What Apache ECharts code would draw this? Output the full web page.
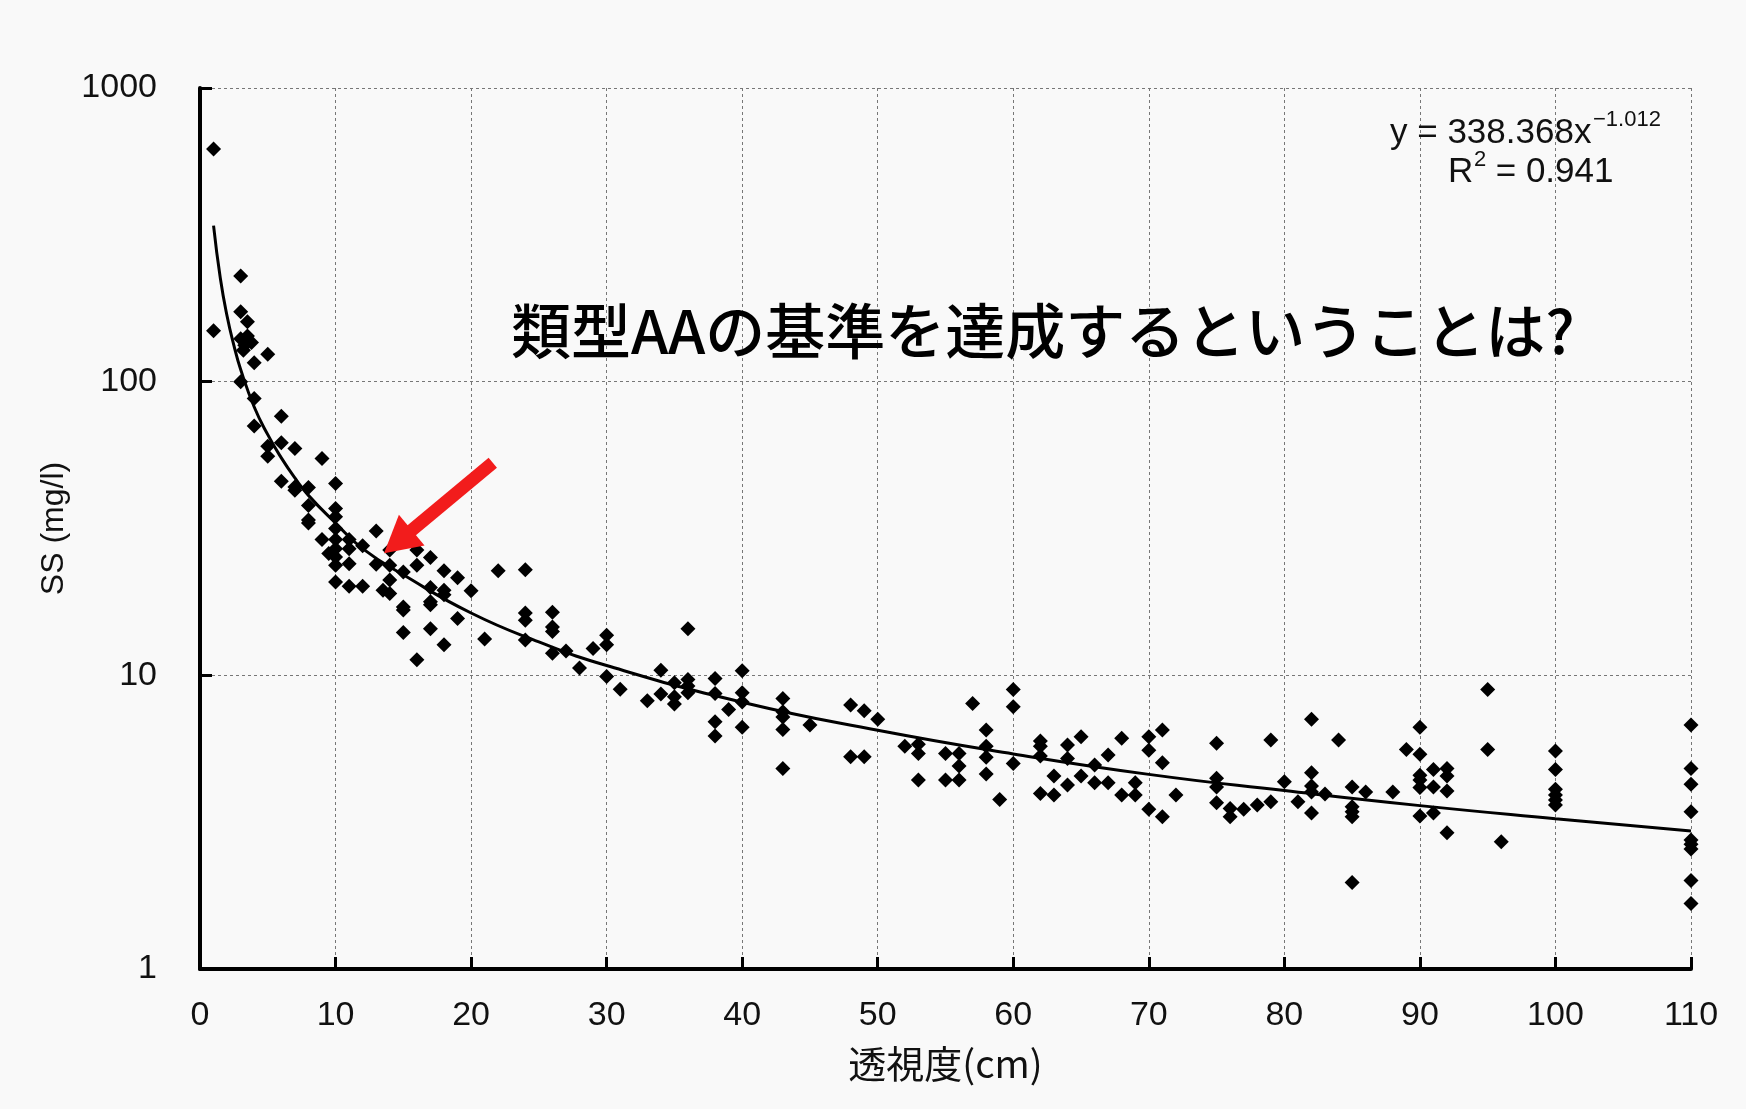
<!DOCTYPE html>
<html>
<head>
<meta charset="utf-8">
<script src="https://cdn.jsdelivr.net/npm/echarts@6/dist/echarts.min.js"></script>
<style>
html,body{margin:0;padding:0;background:#f9f9f9;}
#c{width:1746px;height:1109px;}
</style>
</head>
<body>
<div id="c"></div>
<script>
// ---- data ----
const xTickValues = [0, 10, 20, 30, 40, 50, 60, 70, 80, 90, 100, 110];
const yTickValues = [1, 10, 100, 1000];

const scatterX = [
  1, 1,
  3, 3, 3.5, 3, 3.5, 3.3, 3.8, 3.2, 3,
  4, 4, 4,
  5, 5, 5,
  6, 6, 6,
  7, 7, 7,
  8, 8, 8, 8,
  9, 9, 9.5,
  10, 10, 10, 10, 10, 10, 10, 10, 10,
  11, 11, 11, 11,
  12, 12,
  13, 13, 13.5,
  14, 14, 14, 14,
  15, 15, 15, 15,
  16, 16, 16,
  17, 17, 17, 17, 17,
  18, 18, 18, 18,
  19, 19,
  20, 21, 22,
  24, 24, 24, 24,
  26, 26, 26, 26,
  27, 28, 29,
  30, 30, 30,
  31, 33,
  34, 34,
  35, 35, 35,
  36, 36, 36, 36,
  38, 38, 38, 38,
  39,
  40, 40, 40, 40,
  43, 43, 43, 43, 43,
  45,
  48, 48, 49, 49, 50,
  52, 53, 53, 53,
  55, 55, 56, 56, 56,
  57, 58, 58, 58, 58, 59,
  60, 60, 60,
  62, 62, 62, 62,
  63, 63,
  64, 64, 64,
  65, 65,
  66, 66,
  67, 67,
  68, 68,
  69, 69,
  70, 70, 70,
  71, 71, 71,
  72,
  75, 75, 75, 75,
  76, 76, 77, 78,
  79, 79, 80, 81,
  82, 82, 82, 82, 82,
  83, 84,
  85, 85, 85, 85, 85,
  86, 88, 89,
  90, 90, 90, 90, 90, 90,
  91, 91, 91,
  92, 92, 92, 92,
  95, 95, 96,
  100, 100, 100, 100, 100, 100,
  110, 110, 110, 110, 110, 110, 110, 110, 110
];
const scatterY = [
  620, 149,
  229, 173, 160, 140, 143, 133, 136, 128, 100,
  116, 87.6, 70.7,
  124, 60.3, 55.7,
  76.3, 61.9, 45.8,
  59.2, 43.8, 42.7,
  43.6, 37.9, 33.8, 33.0,
  54.7, 29.0, 26.0,
  45.0, 37.0, 34.7, 31.6, 29.0, 27.0, 25.3, 23.7, 20.8,
  29.0, 27.0, 24.0, 20.1,
  27.6, 20.1,
  31.0, 23.9, 19.5,
  26.7, 23.7, 21.1, 19.0,
  22.5, 17.1, 16.7, 14.0,
  26.7, 23.7, 11.3,
  25.2, 19.9, 17.8, 17.4, 14.4,
  22.7, 19.5, 18.8, 12.7,
  21.5, 15.6,
  19.4, 13.3, 22.7,
  22.9, 16.3, 15.4, 13.2,
  16.4, 14.6, 14.1, 11.9,
  12.1, 10.6, 12.35,
  13.7, 12.7, 9.9,
  8.96, 8.19,
  10.4, 8.63,
  9.43, 8.45, 7.98,
  14.4, 9.68, 9.19, 8.72,
  9.76, 8.68, 6.95, 6.21,
  7.65,
  10.36, 8.72, 8.12, 6.65,
  8.34, 7.51, 7.22, 6.54, 4.82,
  6.77,
  7.92, 5.28, 7.57, 5.28, 7.08,
  5.74, 5.83, 5.42, 4.40,
  5.42, 4.40, 5.42, 4.91, 4.40,
  8.02, 6.51, 5.74, 5.26, 4.61, 3.78,
  8.95, 7.81, 5.01,
  5.98, 5.74, 5.31, 3.96,
  4.54, 3.91,
  5.79, 5.21, 4.23,
  6.18, 4.54,
  4.95, 4.31,
  5.35, 4.31,
  6.10, 3.91,
  4.31, 3.91,
  6.18, 5.56, 3.50,
  6.51, 5.04, 3.30,
  3.91,
  5.87, 4.46, 4.17, 3.68,
  3.52, 3.30, 3.50, 3.62,
  6.02, 3.71, 4.34, 3.71,
  7.08, 4.66, 4.20, 4.01, 3.40,
  3.94, 6.02,
  4.17, 3.57, 3.43, 3.30, 1.97,
  4.01, 4.01, 5.59,
  6.65, 5.39, 4.57, 4.40, 4.15, 3.32,
  4.78, 4.17, 3.40,
  4.82, 4.54, 4.04, 2.91,
  8.95, 5.59, 2.71,
  5.53, 4.78, 4.09, 3.91, 3.76, 3.62,
  6.77, 4.82, 4.26, 3.43, 2.75, 2.66, 2.56, 2.00, 1.67
];

// trend curve as drawn in the picture
const curveX = [1, 1.5, 2, 2.5, 3, 4, 5, 6, 7, 8, 10, 12, 15, 20, 25, 30, 40, 50, 60, 70, 80, 90, 100, 110];
const curveY = [340, 225, 167, 133, 110, 82, 66, 55, 47, 41, 33, 27, 22, 16.3, 13, 10.8, 8.1, 6.5, 5.4, 4.6, 4.05, 3.6, 3.25, 2.95];

// annotation arrow (tail, head) in data units
const arrowFrom = [21.6, 53];
const arrowTo = [14.6, 28.5];

const xName = '透視度(cm)';
const yName = 'SS (mg/l)';
const noteText = '類型AAの基準を達成するということは?';
const eqMain = 'y = 338.368x';
const eqExp = '\u22121.012';
const r2Main = 'R';
const r2Exp = '2';
const r2Rest = ' = 0.941';

// ---- chart ----
const scatterData = scatterX.map((x, i) => [x, scatterY[i]]);
const curveData = curveX.map((x, i) => [x, curveY[i]]);

const chart = echarts.init(document.getElementById('c'), null, {renderer: 'canvas'});
const gridLine = {show: true, lineStyle: {color: '#777', width: 1, type: [3, 3]}};
chart.setOption({
  animation: false,
  backgroundColor: '#f9f9f9',
  grid: {left: 200, top: 88, width: 1491, height: 881, containLabel: false},
  xAxis: {
    type: 'value', min: 0, max: 110, interval: 10,
    name: xName, nameLocation: 'middle', nameGap: 76,
    nameTextStyle: {fontSize: 38, color: '#111', fontFamily: 'Noto Sans CJK JP'},
    axisLine: {show: true, onZero: false, lineStyle: {color: '#000', width: 4}},
    axisTick: {show: true, inside: true, length: 12, lineStyle: {color: '#000', width: 3}},
    splitLine: gridLine,
    axisLabel: {fontSize: 34, color: '#111', margin: 30, fontFamily: 'Liberation Sans',
      formatter: v => xTickValues.includes(v) ? String(v) : ''}
  },
  yAxis: {
    type: 'log', logBase: 10, min: 1, max: 1000,
    name: yName, nameLocation: 'middle', nameGap: 128, nameRotate: 90,
    nameTextStyle: {fontSize: 32, color: '#111', fontFamily: 'Liberation Sans'},
    axisLine: {show: true, onZero: false, lineStyle: {color: '#000', width: 4}},
    axisTick: {show: true, inside: true, length: 12, lineStyle: {color: '#000', width: 3}},
    minorTick: {show: false},
    splitLine: gridLine,
    axisLabel: {fontSize: 34, color: '#111', margin: 43, fontFamily: 'Liberation Sans',
      formatter: v => { const r = Math.round(v); return yTickValues.includes(r) ? String(r) : ''; }}
  },
  series: [
    {
      type: 'line', data: curveData, smooth: true, showSymbol: false, silent: true,
      lineStyle: {color: '#000', width: 3}, z: 3,
      markLine: {
        silent: true, animation: false,
        symbol: ['none', 'triangle'], symbolSize: [40, 36],
        label: {show: false},
        lineStyle: {color: '#f21c1c', width: 13, type: 'solid', opacity: 1},
        emphasis: {disabled: true},
        data: [[{coord: arrowFrom}, {coord: arrowTo}]]
      }
    },
    {
      type: 'scatter', data: scatterData, symbol: 'diamond', symbolSize: 15,
      itemStyle: {color: '#000', opacity: 1}, z: 4, silent: true
    }
  ],
  graphic: [
    {type: 'text', x: 511, y: 331, z: 10,
      style: {text: noteText, fontSize: 60, fontWeight: 500, fontFamily: 'Noto Sans CJK JP', fill: '#000', verticalAlign: 'middle', align: 'left'}},
    {type: 'text', x: 1390, y: 133, z: 10,
      style: {text: eqMain, fontSize: 35, fontFamily: 'Liberation Sans', fill: '#111', verticalAlign: 'middle', align: 'left'}},
    {type: 'text', x: 1593, y: 120, z: 10,
      style: {text: eqExp, fontSize: 22, fontFamily: 'Liberation Sans', fill: '#111', verticalAlign: 'middle', align: 'left'}},
    {type: 'text', x: 1448, y: 172, z: 10,
      style: {text: r2Main, fontSize: 35, fontFamily: 'Liberation Sans', fill: '#111', verticalAlign: 'middle', align: 'left'}},
    {type: 'text', x: 1474, y: 160, z: 10,
      style: {text: r2Exp, fontSize: 22, fontFamily: 'Liberation Sans', fill: '#111', verticalAlign: 'middle', align: 'left'}},
    {type: 'text', x: 1486, y: 172, z: 10,
      style: {text: r2Rest, fontSize: 35, fontFamily: 'Liberation Sans', fill: '#111', verticalAlign: 'middle', align: 'left'}}
  ]
});
</script>
</body>
</html>
